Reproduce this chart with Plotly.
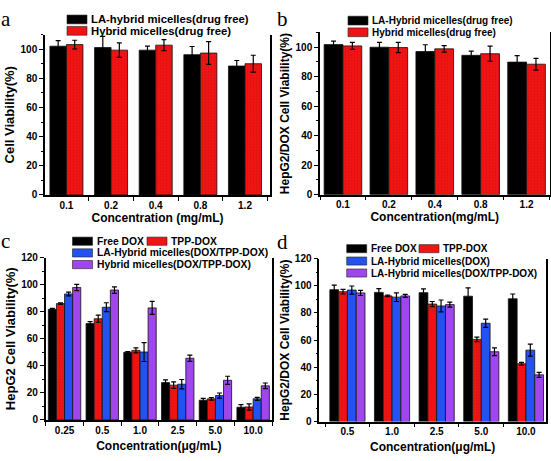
import plotly.graph_objects as go

W, H = 551, 461

# ---------------- data ----------------
# Panel a
conc_a = ["0.1", "0.2", "0.4", "0.8", "1.2"]
la_hybrid_a = [102.0, 101.1, 99.3, 96.2, 88.4]
la_hybrid_a_err = [3.8, 7.6, 2.7, 5.6, 3.8]
hybrid_a = [103.1, 99.3, 102.7, 97.3, 90.0]
hybrid_a_err = [3.0, 5.0, 3.8, 7.8, 5.8]

# Panel b
conc_b = ["0.1", "0.2", "0.4", "0.8", "1.2"]
la_hybrid_b = [101.8, 100.0, 97.1, 94.5, 89.9]
la_hybrid_b_err = [2.4, 3.3, 4.6, 2.9, 4.4]
hybrid_b = [100.9, 99.8, 98.9, 95.6, 88.5]
hybrid_b_err = [2.4, 3.5, 2.2, 5.1, 4.0]

# Panel c
conc_c = ["0.25", "0.5", "1.0", "2.5", "5.0", "10.0"]
free_dox_c = [81.8, 71.2, 50.0, 27.6, 14.6, 9.4]
free_dox_c_err = [0.6, 1.5, 0.6, 2.0, 1.3, 1.9]
tpp_dox_c = [86.0, 74.8, 51.4, 25.7, 15.6, 9.6]
tpp_dox_c_err = [0.6, 2.6, 1.8, 2.4, 1.0, 2.3]
la_hybrid_c = [93.1, 83.3, 50.2, 26.4, 18.0, 15.6]
la_hybrid_c_err = [1.4, 3.3, 7.0, 3.5, 1.9, 1.1]
hybrid_c = [97.9, 96.0, 82.8, 45.6, 29.3, 25.2]
hybrid_c_err = [2.3, 2.4, 4.8, 2.3, 3.0, 2.1]

# Panel d
conc_d = ["0.5", "1.0", "2.5", "5.0", "10.0"]
free_dox_d = [97.1, 95.1, 94.9, 92.3, 90.4]
free_dox_d_err = [3.3, 2.8, 2.8, 6.1, 3.5]
tpp_dox_d = [95.6, 92.5, 86.5, 60.5, 42.6]
tpp_dox_d_err = [1.7, 0.6, 1.9, 1.6, 1.0]
la_hybrid_dox_d = [96.8, 91.6, 85.1, 72.4, 52.6]
la_hybrid_dox_d_err = [3.0, 3.2, 4.4, 3.0, 4.4]
la_hybrid_both_d = [94.7, 92.5, 86.1, 51.4, 34.4]
la_hybrid_both_d_err = [1.9, 1.1, 1.8, 2.8, 1.8]

# ---------------- style ----------------
BLACK = "#000000"
RED = "#f01515"
BLUE = "#2451f2"
PURPLE = "#9f46ee"
FONT = "Arial, Liberation Sans, sans-serif"
SERIF = "Times New Roman, Liberation Serif, serif"


def px(x):
    return x / W


def py(y):
    return 1 - y / H


fig = go.Figure()


def add_group(xref, yref, cats, series, width):
    n = len(series)
    for i, (vals, errs, color) in enumerate(series):
        pattern = None
        if color == RED:
            pattern = dict(shape=".", fgcolor="#a80000", fgopacity=0.35, size=3, solidity=0.2)
        fig.add_trace(go.Bar(
            x=cats, y=vals, xaxis=xref, yaxis=yref,
            width=width, offset=-n * width / 2 + i * width,
            marker=dict(color=color, line=dict(color="#111111", width=0.8), pattern=pattern),
            error_y=dict(type="data", array=errs, visible=True, color="#000000",
                         thickness=1.2, width=2.5),
            showlegend=False,
        ))


add_group("x", "y", conc_a, [(la_hybrid_a, la_hybrid_a_err, BLACK),
                             (hybrid_a, hybrid_a_err, RED)], 0.37)
add_group("x2", "y2", conc_b, [(la_hybrid_b, la_hybrid_b_err, BLACK),
                               (hybrid_b, hybrid_b_err, RED)], 0.41)
add_group("x3", "y3", conc_c, [(free_dox_c, free_dox_c_err, BLACK),
                               (tpp_dox_c, tpp_dox_c_err, RED),
                               (la_hybrid_c, la_hybrid_c_err, BLUE),
                               (hybrid_c, hybrid_c_err, PURPLE)], 0.215)
add_group("x4", "y4", conc_d, [(free_dox_d, free_dox_d_err, BLACK),
                               (tpp_dox_d, tpp_dox_d_err, RED),
                               (la_hybrid_dox_d, la_hybrid_dox_d_err, BLUE),
                               (la_hybrid_both_d, la_hybrid_both_d_err, PURPLE)], 0.197)

tickfont = dict(family=FONT, size=10, color="black", weight="bold")


def xaxis(domain, rng, anchor, title, size=12, standoff=2):
    return dict(domain=domain, range=rng, anchor=anchor, type="category",
                showline=True, linecolor="black", linewidth=1.5, mirror=False,
                ticks="outside", ticklen=4, tickwidth=1.2, tickcolor="black",
                tickson="boundaries", automargin=True,
                tickfont=tickfont, showgrid=False, zeroline=False,
                title=dict(text=title, standoff=standoff,
                           font=dict(family=FONT, size=size, color="black", weight="bold")))


def yaxis(domain, rng, anchor, title, size=12, standoff=3):
    return dict(domain=domain, range=rng, anchor=anchor,
                showline=True, linecolor="black", linewidth=1.5, mirror=True,
                ticks="outside", ticklen=4, tickwidth=1.2, tickcolor="black",
                dtick=20, tick0=0,
                minor=dict(ticks="outside", ticklen=2, dtick=10, tickcolor="black", tickwidth=1),
                tickfont=tickfont, showgrid=False, zeroline=False,
                title=dict(text=title, standoff=standoff,
                           font=dict(family=FONT, size=size, color="black", weight="bold")))


fig.update_layout(
    width=W, height=H,
    margin=dict(l=0, r=0, t=0, b=0),
    paper_bgcolor="white", plot_bgcolor="white",
    barmode="overlay",
    showlegend=False,
    xaxis=xaxis([px(45), px(270)], [-0.48, 4.56], "y", "Concentration (mg/mL)", standoff=3),
    yaxis=yaxis([py(194), py(29.3)], [0, 110], "x", "Cell Viability(%)", size=13),
    xaxis2=xaxis([px(320), px(549.5)], [-0.5, 4.5], "y2", "Concentration(mg/mL)", standoff=3),
    yaxis2=yaxis([py(193.7), py(27.2)], [0, 110], "x2", "HepG2/DOX Cell Viability(%)"),
    xaxis3=xaxis([px(45.7), px(272)], [-0.5, 5.5], "y3", "Concentration(μg/mL)", standoff=7),
    yaxis3=yaxis([py(425), py(258.3)], [0, 120], "x3", "HepG2 Cell Viability(%)", size=13),
    xaxis4=xaxis([px(319.3), px(546)], [-0.63, 4.45], "y4", "Concentration(μg/mL)", standoff=6),
    yaxis4=yaxis([py(426.7), py(259.3)], [0, 120], "x4", "HepG2/DOX Cell Viability(%)"),
)

# ---------------- legends (drawn as swatches + labels) ----------------
legend_items = [
    # (x0, y0, x1, y1, color, label, font size)
    (67, 9.3, 87, 18.3, BLACK, "LA-hybrid micelles(drug free)", 11.3),
    (67, 21, 87, 30, RED, "Hybrid micelles(drug free)", 11.3),
    (348, 10.5, 368, 19.5, BLACK, "LA-Hybrid micelles(drug free)", 10),
    (348, 22.5, 368, 31.5, RED, "Hybrid micelles(drug free)", 10),
    (72.5, 237.3, 92.5, 245.7, BLACK, "Free DOX", 10.3),
    (147, 237.3, 167, 245.7, RED, "TPP-DOX", 10.3),
    (72.5, 249.3, 92.5, 257.7, BLUE, "LA-Hybrid micelles(DOX/TPP-DOX)", 10.3),
    (72.5, 261.3, 92.5, 269.7, PURPLE, "Hybrid micelles(DOX/TPP-DOX)", 10.3),
    (346.7, 245, 366.7, 253.3, BLACK, "Free DOX", 10),
    (419, 245, 439, 253.3, RED, "TPP-DOX", 10),
    (346.7, 257.7, 366.7, 266, BLUE, "LA-Hybrid micelles(DOX)", 10),
    (346.7, 270, 366.7, 278.3, PURPLE, "LA-Hybrid micelles(DOX/TPP-DOX)", 10),
]
for x0, y0, x1, y1, color, label, fs in legend_items:
    fig.add_shape(type="rect", xref="paper", yref="paper",
                  x0=px(x0), x1=px(x1), y0=py(y1), y1=py(y0),
                  fillcolor=color, line=dict(color="#222222", width=0.6))
    fig.add_annotation(xref="paper", yref="paper", x=px(x1 + 2), y=py((y0 + y1) / 2),
                       xanchor="left", yanchor="middle", showarrow=False, text=label,
                       font=dict(family=FONT, size=fs, color="black", weight="bold"))

# panel letters
for letter, x, y in [("a", -1, -1), ("b", 275, -1), ("c", -1, 227), ("d", 275, 228)]:
    fig.add_annotation(xref="paper", yref="paper", x=px(x), y=py(y),
                       xanchor="left", yanchor="top", showarrow=False, text=letter,
                       font=dict(family=SERIF, size=21, color="black"))

fig.write_html("out.html",
               config={"displayModeBar": False},
               post_script="document.body.style.margin='0';document.body.style.padding='0';")
